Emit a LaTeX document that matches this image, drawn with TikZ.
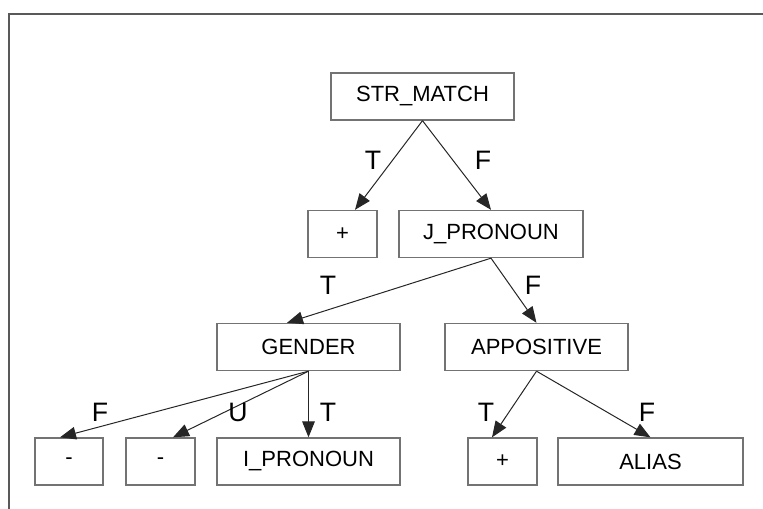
\documentclass[tikz,border=0pt]{standalone}
\usepackage{fontspec}
\setmainfont{Liberation Sans}
\usetikzlibrary{arrows.meta,calc}

\begin{document}
\begin{tikzpicture}[
    x=0.75pt, y=-0.75pt,
    treenode/.style={
        rectangle,
        draw=black!55,
        line width=1pt,
        minimum width=#1*0.75pt,
        minimum height=47*0.75pt,
        inner sep=0pt,
        font=\fontsize{16.5}{18}\selectfont,
    },
    treenode/.default=69,
    branchlabel/.style={
        inner sep=0pt,
        font=\fontsize{20}{22}\selectfont,
    },
    branch/.style={
        -{Triangle[length=12pt, width=9.5pt]},
        line width=0.75pt,
        draw=black!85,
    },
]
\useasboundingbox (0,0) rectangle (763,509);

% frame
\draw[black!65, line width=1.1pt] (9,509) -- (9,14) -- (763,14);

% === level 0 ===
\node[treenode=183] (strmatch) at (422.5,96.5) {STR\_MATCH};

% === level 1 ===
\node[treenode] (plusA) at (342.5,234) {+};
\node[treenode=184] (jpronoun) at (491,234) {J\_PRONOUN};

% === level 2 ===
\node[treenode=183] (gender) at (308.5,347) {GENDER};
\node[treenode=183] (appositive) at (536.5,347) {APPOSITIVE};

% === level 3 ===
\node[treenode=68] (minusA) at (69,461.5) {-};
\node[treenode=69] (minusB) at (160.5,461.5) {-};
\node[treenode=183] (ipronoun) at (308.5,461.5) {I\_PRONOUN};
\node[treenode] (plusB) at (502.5,461.5) {+};
\node[treenode=185] (alias) at (650.5,461.5) {ALIAS};

% === branches ===
\draw[branch] (strmatch.south) -- ($(plusA.north)+(12.5,0)$);
\draw[branch] (strmatch.south) -- (jpronoun.north);
\draw[branch] (jpronoun.south) -- ($(gender.north)+(-21.5,0)$);
\draw[branch] (jpronoun.south) -- (appositive.north);
\draw[branch] (gender.south) -- ($(minusA.north)+(-9,0)$);
\draw[branch] (gender.south) -- ($(minusB.north)+(12.5,0)$);
\draw[branch] (gender.south) -- (ipronoun.north);
\draw[branch] (appositive.south) -- ($(plusB.north)+(-10.5,0)$);
\draw[branch] (appositive.south) -- (alias.north);

% === branch labels ===
\node[branchlabel] (lblA) at (373,160) {T};
\node[branchlabel] (lblB) at (483,160) {F};
\node[branchlabel] (lblC) at (328,285) {T};
\node[branchlabel] (lblD) at (533,285) {F};
\node[branchlabel] (lblE) at (100,412) {F};
\node[branchlabel] (lblF) at (238,412) {U};
\node[branchlabel] (lblG) at (328,412) {T};
\node[branchlabel] (lblH) at (486,412) {T};
\node[branchlabel] (lblI) at (647,412) {F};

\end{tikzpicture}
\end{document}
